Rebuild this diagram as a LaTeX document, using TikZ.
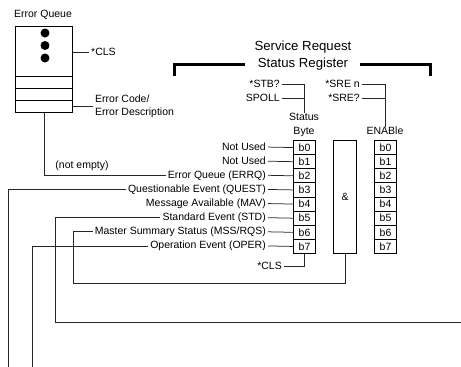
\documentclass[tikz,border=0pt]{standalone}
\usepackage{fontspec}
\setmainfont{Liberation Sans}
\begin{document}
\begin{tikzpicture}[x=1pt,y=-1pt,
  txt/.style={inner xsep=2pt, inner ysep=0pt, font=\fontsize{10.5}{13.5}\selectfont},
  ttl/.style={inner sep=0pt, font=\fontsize{13.2}{15}\selectfont},
  bit/.style={draw, line width=1pt, minimum width=22pt, minimum height=14.125pt, inner sep=0pt, anchor=north west, font=\fontsize{10.5}{12}\selectfont},
  conn/.style={line width=0.75pt, draw=black!85},
  brk/.style={line width=3pt}]
\useasboundingbox (0,0) rectangle (461,367);

% Error queue
\node[txt, anchor=center] (eqt) at (43,15) {Error Queue};
\node[draw, line width=1pt, minimum width=57pt, minimum height=86pt, inner sep=0pt, anchor=north west] (eq) at (15,26) {};
\draw[line width=1pt] (15,76) -- (72,76) (15,88) -- (72,88) (15,100) -- (72,100);
\fill (45,33) circle (4.5) (45,45.5) circle (4.5) (45,58) circle (4.5);
\node[txt, anchor=west] (cls1) at (89,52) {*CLS};
\draw[conn] (cls1.west) -- (cls1.west -| eq.east);
\node[txt, anchor=west, align=left] (ec) at (93,106.5) {Error Code/\\Error Description};
\draw[conn] (ec.west) -- (ec.west -| eq.east);
\node[txt, anchor=center] (ne) at (82,166) {(not empty)};

% Titles
\node[ttl] (t1) at (303,47) {Service Request};
\node[ttl] (t2) at (303,64) {Status Register};
\draw[brk] (174,76) -- (174,64) -- (245,64);
\draw[brk] (360,64) -- (430,64) -- (430,76);

% Status byte / enable labels
\node[txt, anchor=center, align=center] (sbl) at (304,125) {Status\\Byte};
\node[txt, anchor=center] (enl) at (385,131) {ENABle};
\node[txt, anchor=east] (stb) at (282,84) {*STB?};
\node[txt, anchor=east] (spoll) at (282,98) {SPOLL};
\node[txt, anchor=east] (sren) at (362,84) {*SRE n};
\node[txt, anchor=east] (sreq) at (362,98) {*SRE?};
\draw[conn] (stb.east) -| (sbl.north);
\draw[conn] (spoll.east) -- (spoll.east -| sbl.north);
\draw[conn] (sren.east) -| (enl.north);
\draw[conn] (sreq.east) -- (sreq.east -| enl.north);

% Boxes
\foreach \i in {0,...,7} {
  \node[bit] (s\i) at (293,{140+14.125*\i}) {b\i};
  \node[bit] (e\i) at (374,{140+14.125*\i}) {b\i};
}
\node[draw, line width=1pt, minimum width=23pt, minimum height=113pt, inner sep=0pt, anchor=north west, font=\fontsize{10.5}{12}\selectfont] (and) at (333,140) {\&};

% Bit labels
\node[txt, anchor=east] (l0) at (268,147.06) {Not Used};
\node[txt, anchor=east] (l1) at (268,161.19) {Not Used};
\node[txt, anchor=east] (l2) at (268,175.31) {Error Queue (ERRQ)};
\node[txt, anchor=east] (l3) at (268,189.44) {Questionable Event (QUEST)};
\node[txt, anchor=east] (l4) at (268,203.56) {Message Available (MAV)};
\node[txt, anchor=east] (l5) at (268,217.69) {Standard Event (STD)};
\node[txt, anchor=east] (l6) at (268,231.81) {Master Summary Status (MSS/RQS)};
\node[txt, anchor=east] (l7) at (268,245.94) {Operation Event (OPER)};
\foreach \i in {0,...,7} { \draw[conn] (l\i.east) -- (s\i.west); }

% Bottom *CLS
\node[txt, anchor=east] (cls2) at (284,266) {*CLS};
\draw[conn] (cls2.east) -| (s7.south);

% Long connectors
\coordinate (qend) at (8,367);
\coordinate (oend) at (32,367);
\coordinate (stdc) at (55,322);
\coordinate (stde) at (461,322);
\coordinate (mssc) at (73,283);
\draw[conn] (l2.west) -| (eq.south);
\draw[conn] (l3.west) -| (qend);
\draw[conn] (l5.west) -| (stdc) -- (stde);
\draw[conn] (l6.west) -| (mssc) -| (and.south);
\draw[conn] (l7.west) -| (oend);
\end{tikzpicture}
\end{document}
